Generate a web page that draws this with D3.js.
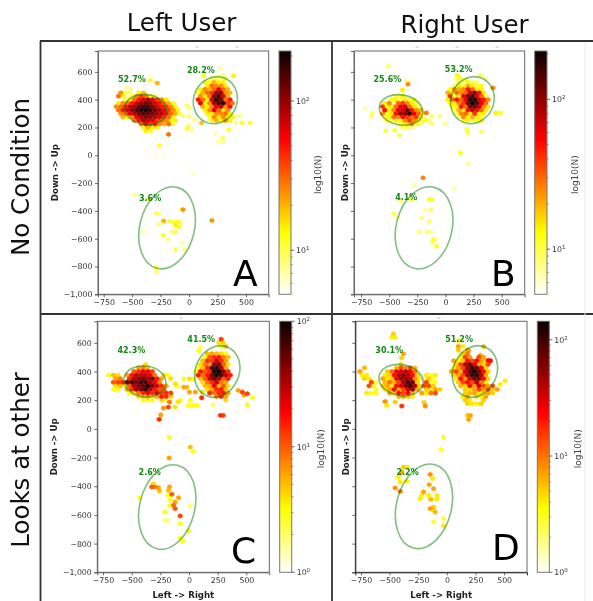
<!DOCTYPE html>
<html>
<head>
<meta charset="utf-8">
<script src="https://d3js.org/d3.v7.min.js"></script>
<style>
html, body { margin: 0; padding: 0; background: #fff; }
svg { display: block; filter: blur(0.55px); }
text { font-family: "DejaVu Sans", sans-serif; }
</style>
</head>
<body>
<div id="chart"></div>
<script>
// hex bins. rows: [y, first x, N, N, ...] stepping 40 in x, 0 = empty
// loose: single bins [x, y, N]
const rowsA = [
  [450,-600,24,10,8,0,14,18],
  [425,-620,30,14,0,12,25,40,30,14,9],
  [400,-560,10,14,30,50,70,90,60,40,25,14],
  [375,-620,14,25,30,50,70,100,130,100,70,50,30,20,12],
  [350,-640,25,30,50,70,90,130,170,150,110,70,50,40,25,14],
  [325,-620,30,50,70,110,150,190,200,170,120,90,60,40,25,14],
  [300,-600,25,30,60,80,120,150,130,120,90,80,50,30,20,10],
  [275,-580,20,14,25,60,90,110,100,80,70,40,30,14],
  [250,-480,30,50,90,70,60,40,30,25,14,14],
  [225,-420,30,60,40,50,25,20,30,10],
  [200,-400,14,20,14,14],
  [175,-380,14,12],
  [550,200,10,10,8,12],
  [525,140,14,12,20,14,14],
  [500,160,14,30,25,25,14],
  [475,100,14,25,20,30,60,30,20],
  [450,80,12,20,30,40,90,100,25,20],
  [425,100,25,14,30,110,150,60,20],
  [400,80,50,30,14,70,170,110,30,50],
  [375,100,60,14,25,90,140,190,40,30],
  [350,120,20,14,25,60,70,25,50],
  [325,140,14,25,60,30,14,25],
  [300,160,14,14,25,25,30,14],
  [275,180,12,25,14,25,14,14],
  [250,200,14,20,14,25,14]
];
const looseA = [
  [-340,540,12],[-280,520,20],[-545,483,8],[-510,470,7],[-180,150,30],[-260,70,12],
  [274,624,7],[128,571,12],[392,571,14],[304,575,8],[260,572,7],
  [450,281,8],[420,285,7],[465,233,11],[410,235,8],[538,233,11],[348,185,11],[231,151,7],[295,125,9],[260,96,7],[295,100,8],
  [-18,360,9],[0,340,8],[-47,281,8],[0,281,9],[46,257,8],[-18,192,11],[26,180,8],[-5,210,9],[110,233,18],
  [31,-131,6],[-478,-287,8],[-355,-318,11],[-290,-419,9],[-265,-419,8],[-53,-391,24],[-75,-392,7],
  [-223,-472,20],[-170,-474,11],[-135,-479,11],[-105,-479,12],[-75,-484,9],[-120,-503,14],[-90,-515,12],
  [-145,-551,9],[-120,-551,10],[-267,-496,8],[-229,-575,11],[-185,-604,8],[-62,-628,7],[-118,-678,10],[-39,-678,8],
  [-399,-551,7],[-290,-810,10],[-281,-839,9],[201,-469,24]
];

const rowsB = [
  [425,-460,8,10,14],
  [400,-480,12,14,10,14,10,12],
  [375,-540,14,25,8,30,40,25,14,10],
  [350,-560,40,12,14,30,60,70,30,14,10],
  [325,-540,50,14,25,60,70,120,50,25,20],
  [300,-560,25,12,14,50,90,100,170,60,30,12],
  [275,-540,10,14,30,25,50,40,30,40,14],
  [250,-520,12,10,14,12,25,40,25,14,10,8],
  [225,-420,8,12,14,25,12,8],
  [200,-380,9,10,8],
  [550,100,10,8],
  [525,120,9,8,12,10,8],
  [500,40,0,8,14,10,20,14,10,12],
  [475,40,12,25,20,25,50,30,14,14],
  [450,20,20,14,30,25,30,70,100,50,14],
  [425,40,40,10,14,60,110,150,60,30,10],
  [400,20,14,30,50,30,60,160,190,70,50,25],
  [375,40,12,14,25,40,110,200,130,60,30],
  [350,60,12,14,50,30,110,120,70,25,14],
  [325,80,9,20,14,50,70,50,30,14],
  [300,100,10,25,30,14,40,14,14],
  [275,120,8,25,14,20,14,10],
  [250,160,12,14,10,12,14]
];
const looseB = [
  [-506,641,9],[-342,535,8],[-333,511,25],[-383,470,14],
  [-714,336,7],[-650,305,8],[-660,281,9],[-170,305,28],[-180,255,11],[-120,281,9],[-50,281,9],[-120,228,9],[-140,250,8],[0,228,8],
  [-530,176,11],[-452,180,11],[-410,144,10],
  [104,576,12],[125,555,11],[178,545,10],[312,576,9],[357,552,8],[423,485,25],[446,305,14],[480,305,10],[491,305,11],
  [190,187,10],[323,170,9],[200,162,10],[134,17,12],[202,-59,7],[80,-239,7],[-199,-162,26],[-277,-215,7],
  [-398,-331,8],[-303,-318,11],[-143,-318,12],[-119,-318,10],[-185,-395,7],[-131,-395,9],[-214,-448,8],[-143,-474,9],
  [-461,-419,10],[-423,-448,8],[-238,-551,8],[-164,-551,8],[-134,-551,8],[-104,-604,11],[-83,-604,7],[-119,-628,9],[-80,-654,11]
];

const rowsC = [
  [450,-380,4],
  [425,-440,6,8,5],
  [400,-480,10,14,22,20,12],
  [375,-700,3,5,4,0,6,16,30,25,30,20,8,0,4,3],
  [350,-640,6,8,0,14,30,40,50,35,45,16,6,0,4],
  [325,-660,10,12,14,50,60,45,70,60,30,20,8],
  [300,-640,4,5,3,10,30,45,50,90,45,25,14,6],
  [275,-660,3,3,0,6,14,35,45,80,30,16,10,10],
  [250,-520,3,4,8,14,20,14,25,12,14,12],
  [225,-440,4,5,6,4,6,16,14,4],
  [200,-400,3,3,3,0,4,3],
  [625,280,12],
  [600,260,4,4],
  [575,280,3,5],
  [525,160,5,6,5,4,3],
  [500,140,3,10,14,16,8,5],
  [475,120,5,14,12,25,14,6],
  [450,100,4,8,6,40,50,10,4],
  [425,80,3,5,14,60,80,30,6],
  [400,60,3,16,10,14,90,100,40,14],
  [375,80,16,8,16,45,90,60,30,16],
  [350,100,5,10,25,50,30,10,16],
  [325,120,4,8,14,25,8,6],
  [300,140,5,6,20,5,10,4],
  [275,160,4,6,14,16,5],
  [250,180,14,8,14,16,6],
  [225,240,8,14,6],
  [200,320,4]
];
const looseC = [
  [-223,145,7],[-180,152,12],[-121,152,4],[-170,187,8],[-77,198,3],[-95,188,4],[-261,66,14],[-247,98,6],[-173,-57,3],[11,-127,5],[35,-157,3],[-173,-203,6],
  [-47,349,3],[4,349,4],[40,349,3],[-120,314,4],[-47,291,6],[-18,291,5],[4,256,6],[55,256,6],[114,256,4],[-106,298,3],[11,198,3],[-4,163,3],[40,163,3],[69,163,3],[110,217,14],
  [100,570,2],[85,545,3],[430,268,6],[465,256,12],[507,245,12],[480,235,6],[553,217,3],[507,168,3],[210,168,2],[274,94,14],[298,94,12],
  [-311,-382,4],[-325,-405,10],[-296,-405,8],[-267,-410,6],[-258,-433,5],[-434,-482,3],[-170,-405,6],[-180,-428,5],[-150,-456,10],[-180,-463,3],
  [-92,-480,6],[-165,-495,3],[-121,-510,6],[-135,-533,9],[-121,-556,10],[-170,-533,3],[-209,-580,3],[-209,-638,2],[-185,-638,2],[-77,-607,12],[-77,-660,3],[11,-538,2],[-4,-710,3],[-77,-761,3],[-56,-784,3]
];

const rowsD = [
  [450,-400,5],
  [425,-720,6,0,0,0,0,0,0,6,14,8,14,6],
  [400,-760,7,0,0,0,0,0,5,10,25,30,40,25,10],
  [375,-740,4,4,0,0,0,4,5,22,40,60,40,22,5,0,4,3,4],
  [350,-720,5,4,0,0,7,4,5,25,50,50,40,8,4,0,5,3],
  [325,-660,14,3,0,6,10,6,14,40,90,60,5,0,14,3,3],
  [300,-680,14,3,0,5,7,4,22,30,60,100,40,5,14,14,5],
  [275,-620,3,0,4,7,22,6,14,30,50,7,0,5,4,7,5],
  [250,-700,4,3,3,0,0,7,5,22,14,25,6,0,7,4,10,14],
  [225,-420,6,7,5,4],
  [575,100,7,4],
  [550,100,5,0,7],
  [525,140,5,10],
  [500,80,0,4,14,7,0,14,7],
  [475,60,7,4,5,22,14,22,7,4,22],
  [450,80,5,14,40,60,30,7,5,14],
  [425,60,4,7,14,50,100,70,25,5],
  [400,40,7,14,6,30,70,130,60,22,5],
  [375,60,5,7,14,50,100,120,40,7],
  [350,80,4,22,7,30,60,60,22,5],
  [325,100,5,14,22,14,40,10,4],
  [300,120,6,5,22,7,30,14,7,14],
  [275,120,0,5,4,7,14,7,14,5,7],
  [250,160,5,6,7,4,5,7,5],
  [225,140,4,7,0,5,4,7],
  [200,160,5,4,0,0,5],
  [175,180,5,4,4,5]
];
const looseD = [
  [-481,639,4],[-467,662,5],[-455,640,4],[-379,523,7],[-395,495,5],
  [-540,191,8],[-525,163,4],[-452,187,5],[-394,159,16],[-189,159,8],[-200,185,5],
  [103,616,4],[322,574,6],[190,546,7],[292,512,7],[360,477,22],[465,310,4],[510,335,4],[190,66,7],[205,94,7],[180,95,5],
  [-379,-266,5],[-345,-266,4],[-394,-301,7],[-423,-336,4],[-408,-370,4],[-452,-412,8],[-408,-436,10],[-350,-366,4],
  [-146,-317,8],[-125,-347,4],[-154,-389,7],[-116,-417,7],[-87,-463,4],[-87,-490,4],[-204,-440,7],[-220,-462,4],[-233,-487,4],
  [-160,-463,4],[-140,-491,6],[-146,-556,7],[-116,-545,5],[-102,-580,6],[-125,-565,4],[-116,-649,3],[-29,-626,3],[-29,-677,4],[-29,-57,3],[-52,-145,3]
];

const ellipsesA = [[-381,329,184,108,8],[231,396,190,172,25],[-193,-522,240,300,14]];
const ellipsesB = [[-395,326,195,108,10],[240,396,190,172,25],[-190,-522,248,300,14]];
const ellipsesC = [[-385,331,184,108,8],[246,400,190,185,25],[-190,-545,240,300,14]];
const ellipsesD = [[-400,340,195,108,10],[245,400,190,185,25],[-200,-540,240,300,14]];

const percentA = [[-624,526,"52.7%"],[-18,593,"28.2%"],[-440,-330,"3.6%"]];
const percentB = [[-640,530,"25.6%"],[-5,600,"53.2%"],[-447,-320,"4.1%"]];
const percentC = [[-624,530,"42.3%"],[-15,603,"41.5%"],[-440,-325,"2.6%"]];
const percentD = [[-625,530,"30.1%"],[-15,603,"51.2%"],[-440,-325,"2.2%"]];

const xTicks = [-750,-500,-250,0,250,500];
const yTicks = [600,400,200,0,-200,-400,-600,-800,-1000];
const cbTicksAB = [100,10];
const cbTicksCD = [100,10,1];

const panels = [
  { letter:"A", rows:rowsA, loose:looseA, ell:ellipsesA, pct:percentA, xd:[-800,700], box:[98,268.7,51,294.3], cb:[279,291], nd:[5.07,216], cbt:cbTicksAB,
    yLab:true, xLab:false, ylx:55, lnx:318, ly:[233,286], specks:[197,237], speckY:47 },
  { letter:"B", rows:rowsB, loose:looseB, ell:ellipsesB, pct:percentB, xd:[-813,705], box:[354,524.7,51,294.3], cb:[534.7,547], nd:[5,210], cbt:cbTicksAB,
    yLab:false, xLab:false, ylx:345, lnx:575, ly:[491,286], specks:[417,457,497], speckY:47 },
  { letter:"C", rows:rowsC, loose:looseC, ell:ellipsesC, pct:percentC, xd:[-800,700], box:[97.3,269.3,321.3,572.3], cb:[279.7,291.7], nd:[1,100], cbt:cbTicksCD,
    yLab:true, xLab:true, ylx:54, lnx:321, ly:[231,563], specks:[181], speckY:318 },
  { letter:"D", rows:rowsD, loose:looseD, ell:ellipsesD, pct:percentD, xd:[-800,700], box:[355.3,527,321.3,572.3], cb:[537.3,549.3], nd:[1,144], cbt:cbTicksCD,
    yLab:false, xLab:true, ylx:346, lnx:578, ly:[492,560], specks:[439], speckY:318 }
];

const W = 593, H = 601;
const svg = d3.select("#chart").append("svg").attr("width", W).attr("height", H);
svg.append("rect").attr("width", W).attr("height", H).attr("fill", "#fff");

// hot_r
const hotR = d3.scaleLinear()
  .domain([0, 0.254, 0.635, 1])
  .range(["#ffffff", "#ffff00", "#ff0000", "#0b0000"])
  .clamp(true);

// frame
const frameColor = "#333";
[[40.5,41,40.5,601],[332,41,332,601],[40,41,593,41],[40,314,593,314]].forEach(l => {
  svg.append("line").attr("x1", l[0]).attr("y1", l[1]).attr("x2", l[2]).attr("y2", l[3])
    .attr("stroke", frameColor).attr("stroke-width", 1.8);
});
svg.append("line").attr("x1", 585).attr("y1", 42).attr("x2", 585).attr("y2", 601).attr("stroke", "#e8e8e8");

// titles
svg.append("text").attr("x", 181.5).attr("y", 31).attr("text-anchor", "middle").attr("font-size", 24.5).attr("fill", "#111").text("Left User");
svg.append("text").attr("x", 464.5).attr("y", 33).attr("text-anchor", "middle").attr("font-size", 24.5).attr("fill", "#111").text("Right User");
[["No Condition",177],["Looks at other",460]].forEach(d => {
  svg.append("text").attr("transform", `translate(29,${d[1]}) rotate(-90)`).attr("text-anchor", "middle")
    .attr("font-size", 24.5).attr("fill", "#111").text(d[0]);
});

function styleAxis(g) {
  g.selectAll("path").attr("stroke", "#666").attr("stroke-width", 1);
  g.selectAll("line").attr("stroke", "#444").attr("stroke-width", 0.8);
  g.selectAll("text").attr("font-size", 7.8).attr("fill", "#333").attr("font-family", '"DejaVu Sans", sans-serif');
}

panels.forEach(p => {
  const [x0, x1, y0, y1] = p.box;
  const g = svg.append("g");
  const x = d3.scaleLinear().domain(p.xd).range([x0, x1]);
  const y = d3.scaleLinear().domain([-1000, 750]).range([y1, y0]);
  const t = d3.scaleLog().domain(p.nd).range([0, 1]);

  // hexes
  const hw = Math.abs(x(40) - x(0)) / 2;
  const rowPx = Math.abs(y(25) - y(0));
  const hh = rowPx * 2 / 3;
  const hexPath = `M0,${-hh}L${hw},${-hh/2}L${hw},${hh/2}L0,${hh}L${-hw},${hh/2}L${-hw},${-hh/2}Z`;

  const bins = [];
  p.rows.forEach(r => {
    r.slice(2).forEach((n, i) => { if (n > 0) bins.push([r[1] + 40 * i, r[0], n]); });
  });
  p.loose.forEach(b => bins.push(b));
  bins.sort((a, b) => a[2] - b[2]);

  g.append("g").selectAll("path").data(bins).join("path")
    .attr("d", hexPath)
    .attr("transform", d => `translate(${x(d[0])},${y(d[1])})`)
    .attr("fill", d => hotR(t(d[2])))
    .attr("stroke", d => hotR(t(d[2])))
    .attr("stroke-width", 0.3);

  // gaussian ellipses
  g.append("g").selectAll("ellipse").data(p.ell).join("ellipse")
    .attr("cx", d => x(d[0])).attr("cy", d => y(d[1]))
    .attr("rx", d => Math.abs(x(d[2]) - x(0))).attr("ry", d => Math.abs(y(d[3]) - y(0)))
    .attr("transform", d => `rotate(${d[4]},${x(d[0])},${y(d[1])})`)
    .attr("fill", "none").attr("stroke", "#008000").attr("stroke-opacity", 0.5).attr("stroke-width", 1.6);

  g.append("g").selectAll("text").data(p.pct).join("text")
    .attr("x", d => x(d[0])).attr("y", d => y(d[1]))
    .attr("font-size", 8).attr("font-weight", "bold").attr("fill", "#118a11").text(d => d[2]);

  // box and axes
  g.append("rect").attr("x", x0).attr("y", y0).attr("width", x1 - x0).attr("height", y1 - y0)
    .attr("fill", "none").attr("stroke", "#666").attr("stroke-width", 1);

  const xAxis = g.append("g").attr("transform", `translate(0,${y1})`)
    .call(d3.axisBottom(x).tickValues(xTicks).tickSizeOuter(0).tickSize(3).tickPadding(2.5));
  styleAxis(xAxis);
  const yAxis = g.append("g").attr("transform", `translate(${x0},0)`)
    .call(d3.axisLeft(y).tickValues(yTicks).tickSizeOuter(0).tickSize(3).tickPadding(2.5)
      .tickFormat(p.yLab ? d3.format(",") : ""));
  styleAxis(yAxis);
  if (p.letter === "D") {
    xAxis.select("path").attr("stroke", "#222");
    yAxis.select("path").attr("stroke", "#222");
  }

  g.append("text").attr("transform", `translate(${p.ylx + 3},${(y0 + y1) / 2}) rotate(-90)`)
    .attr("text-anchor", "middle").attr("font-size", 8.6).attr("font-weight", "bold").attr("fill", "#222").text("Down -> Up");
  if (p.xLab) {
    g.append("text").attr("x", (x0 + x1) / 2).attr("y", 597.5).attr("text-anchor", "middle")
      .attr("font-size", 8.6).attr("font-weight", "bold").attr("fill", "#222").text("Left -> Right");
  }

  // colorbar
  const cb = g.append("g");
  const cy = d3.scaleLog().domain(p.nd).range([y1, y0]);
  const strips = d3.range(Math.floor(y0), Math.ceil(y1));
  cb.selectAll("rect").data(strips).join("rect")
    .attr("x", p.cb[0]).attr("y", d => d).attr("width", p.cb[1] - p.cb[0]).attr("height", 1.2)
    .attr("fill", d => hotR((y1 - d - 0.5) / (y1 - y0)));
  cb.append("rect").attr("x", p.cb[0]).attr("y", y0).attr("width", p.cb[1] - p.cb[0]).attr("height", y1 - y0)
    .attr("fill", "none").attr("stroke", "#777").attr("stroke-width", 1);

  const minor = [];
  [1, 10, 100].forEach(k => d3.range(2, 10).forEach(m => {
    const v = k * m;
    if (v > p.nd[0] && v < p.nd[1]) minor.push(v);
  }));
  cb.append("g").selectAll("line").data(minor).join("line")
    .attr("x1", p.cb[1]).attr("x2", p.cb[1] + 1.7).attr("y1", d => cy(d)).attr("y2", d => cy(d))
    .attr("stroke", "#555").attr("stroke-width", 0.6);
  const major = cb.append("g").selectAll("g").data(p.cbt).join("g")
    .attr("transform", d => `translate(${p.cb[1]},${cy(d)})`);
  major.append("line").attr("x2", 3).attr("stroke", "#444").attr("stroke-width", 0.8);
  const lab = major.append("text").attr("x", 5).attr("y", 3).attr("font-size", 7.8).attr("fill", "#333");
  lab.append("tspan").text("10");
  lab.append("tspan").attr("dy", -3).attr("font-size", 5.5).text(d => Math.round(Math.log10(d)));

  g.append("text").attr("transform", `translate(${p.lnx + 3},${(y0 + y1) / 2 + 2}) rotate(-90)`)
    .attr("text-anchor", "middle").attr("font-size", 9).attr("fill", "#444").text("log10(N)");

  // panel letter
  g.append("text").attr("x", p.ly[0]).attr("y", p.ly[1]).attr("font-size", 36).attr("fill", "#000").text(p.letter);

  // clipped tick remnants above the box
  g.append("g").selectAll("line").data(p.specks).join("line")
    .attr("x1", d => d - 1.5).attr("x2", d => d + 1.5).attr("y1", p.speckY).attr("y2", p.speckY)
    .attr("stroke", "#aaa").attr("stroke-width", 0.8);
});
</script>
</body>
</html>
